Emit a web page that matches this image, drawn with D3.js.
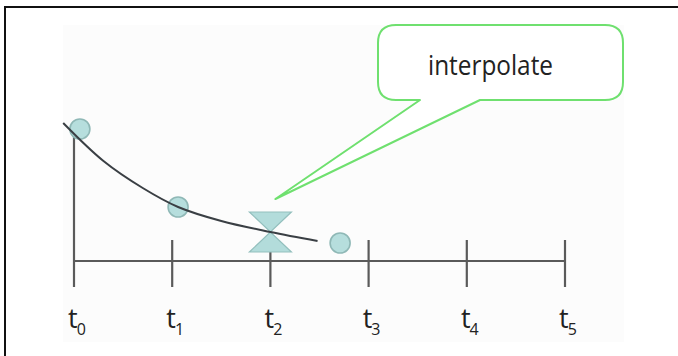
<!DOCTYPE html>
<html>
<head>
<meta charset="utf-8">
<script src="https://cdn.jsdelivr.net/npm/d3@7"></script>
<style>
  html, body { margin: 0; padding: 0; background: #fff; }
  svg { display: block; }
</style>
</head>
<body>
<svg id="chart" width="678" height="356"></svg>
<script>
// ---- data ----
const tickLabels = ["0", "1", "2", "3", "4", "5"];          // subscripts of t
const tickValues = [0, 1, 2, 3, 4, 5];
const samples = [ [0.06, 1.32], [1.06, 0.54], [2.71, 0.18] ];   // circles (t, value)
const curvePoints = [ [-0.11, 1.38], [0.3, 1.0], [0.7, 0.73], [1.06, 0.54],
                      [1.5, 0.40], [2.0, 0.29], [2.48, 0.20] ];
const interpolated = [ [2.0, 0.29] ];                         // hourglass marker
const calloutText = "interpolate";
const axisTop = 1.38;

// ---- layout ----
const svg = d3.select("#chart");
const x = d3.scaleLinear().domain([0, 5]).range([74, 565]);
const y = d3.scaleLinear().domain([0, 1]).range([261, 161]);

svg.append("rect").attr("width", 678).attr("height", 356).attr("fill", "#fff");
svg.append("rect").attr("x", 63).attr("y", 25).attr("width", 561).attr("height", 317)
   .attr("fill", "#fcfcfc");

// frame (top and left edges only)
svg.append("path").attr("d", "M5,356 V7 H678")
   .attr("fill", "none").attr("stroke", "#111").attr("stroke-width", 2);

const axisColor = "#5a5a5a";
// vertical axis at t0
svg.append("line")
  .attr("x1", x(0)).attr("x2", x(0))
  .attr("y1", y(axisTop)).attr("y2", y(0) + 26)
  .attr("stroke", axisColor).attr("stroke-width", 2.2);
// horizontal axis
svg.append("line")
  .attr("x1", x(0)).attr("x2", x(5))
  .attr("y1", y(0)).attr("y2", y(0))
  .attr("stroke", axisColor).attr("stroke-width", 2.2);
// ticks
svg.append("g").selectAll("line").data(tickValues.slice(1)).join("line")
  .attr("x1", d => x(d)).attr("x2", d => x(d))
  .attr("y1", y(0) - 21).attr("y2", y(0) + 26)
  .attr("stroke", axisColor).attr("stroke-width", 2.2);

// tick labels t with subscript
const lab = svg.append("g").selectAll("text").data(tickValues).join("text")
  .attr("x", d => x(d) + 3).attr("y", 328)
  .attr("text-anchor", "middle")
  .attr("font-family", "'Open Sans', sans-serif")
  .attr("fill", "#222");
lab.append("tspan").attr("font-size", 27).text("t");
lab.append("tspan").attr("font-size", 16).attr("dy", 7).attr("dx", -1)
   .text((d, i) => tickLabels[i]);

// sample circles
svg.append("g").selectAll("circle").data(samples).join("circle")
  .attr("cx", d => x(d[0])).attr("cy", d => y(d[1])).attr("r", 10)
  .attr("fill", "#b6dedd").attr("stroke", "#8fb8b6").attr("stroke-width", 1.6);

// hourglass marker
svg.append("g").selectAll("path").data(interpolated).join("path")
  .attr("d", d => {
    const cx = x(d[0]), cy = y(d[1]), w = 21, h = 20;
    return `M${cx - w},${cy - h} H${cx + w} L${cx},${cy} Z M${cx - w},${cy + h} H${cx + w} L${cx},${cy} Z`;
  })
  .attr("fill", "#b3dcdb").attr("stroke", "#93bfbd").attr("stroke-width", 1.2);

// curve (on top)
const line = d3.line().x(d => x(d[0])).y(d => y(d[1])).curve(d3.curveCatmullRom.alpha(0.5));
svg.append("path").datum(curvePoints)
  .attr("d", line)
  .attr("fill", "none").attr("stroke", "#3a3f44").attr("stroke-width", 2);

// callout bubble
const bx0 = 378, bx1 = 623, by0 = 25, by1 = 100, r = 18;
const tip = [x(interpolated[0][0]) + 5, y(interpolated[0][1]) - 33];
const tailL = 420, tailR = 480;
const bubble = `M${bx0 + r},${by0} H${bx1 - r} Q${bx1},${by0} ${bx1},${by0 + r}
  V${by1 - r} Q${bx1},${by1} ${bx1 - r},${by1} H${tailR} L${tip[0]},${tip[1]} L${tailL},${by1}
  H${bx0 + r} Q${bx0},${by1} ${bx0},${by1 - r} V${by0 + r} Q${bx0},${by0} ${bx0 + r},${by0} Z`;
svg.append("path").attr("d", bubble)
  .attr("fill", "#fff").attr("stroke", "#6fe06f").attr("stroke-width", 2)
  .attr("stroke-linejoin", "round");

svg.append("text")
  .attr("x", 428).attr("y", 75)
  .attr("font-family", "'Open Sans', sans-serif")
  .attr("font-size", 27)
  .attr("textLength", 125).attr("lengthAdjust", "spacingAndGlyphs")
  .attr("fill", "#222")
  .text(calloutText);
</script>
</body>
</html>
